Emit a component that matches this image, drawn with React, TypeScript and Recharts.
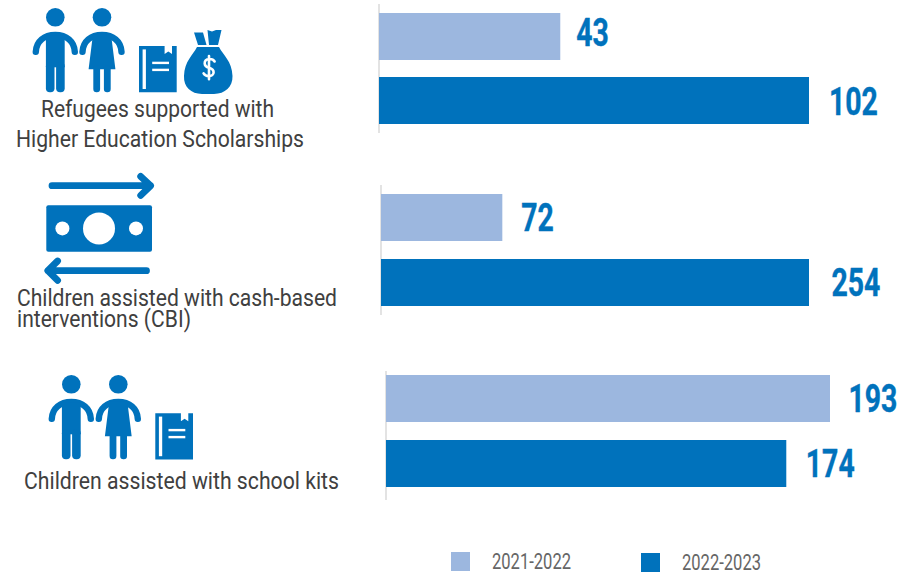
import React from "react";
import { BarChart, Bar, XAxis, YAxis, LabelList } from "recharts";

const BLUE = "#0072BC";
const LIGHT_BLUE = "#9CB7DF";
const TEXT_FONT = "Roboto, sans-serif";

const categories = ["Scholarships", "Cash-based interventions", "School kits"];
const seriesNames = ["2021-2022", "2022-2023"];
const values2021 = [43, 72, 193];
const values2022 = [102, 254, 174];

// chart placement, each panel has its own scale
const panels = [
  { left: 379, top: 4, height: 129, plotWidth: 430, max: 102, gap: 17, axisBottomPad: 0 },
  { left: 381, top: 185, height: 130, plotWidth: 428, max: 254, gap: 18, axisBottomPad: 0 },
  { left: 386, top: 371, height: 129, plotWidth: 444, max: 193, gap: 18, axisBottomPad: 9 },
];

// offsets of the value labels from the bar end: [dx, dy]
const labelNudge2021 = [[16, -4], [19, 0], [18.5, 0]];
const labelNudge2022 = [[20, 0.5], [22.5, 0], [19.5, 0]];

const captions = [
  { text: "Refugees supported with", x: 41, y: 117, w: 233 },
  { text: "Higher Education Scholarships", x: 16, y: 147, w: 288 },
  { text: "Children assisted with cash-based", x: 17, y: 306, w: 320 },
  { text: "interventions (CBI)", x: 17, y: 327, w: 174 },
  { text: "Children assisted with school kits", x: 24, y: 489, w: 315 },
];

const legendItems = [
  { swatchX: 451, swatchY: 552, textX: 492, textY: 569 },
  { swatchX: 641, swatchY: 553, textX: 682, textY: 570 },
];

function ValueLabel({ x, y, width, height, value, nudge }: any) {
  const digits = String(value).length;
  return (
    <text
      x={x + width + nudge[0]}
      y={y + height / 2 + 13.5 + nudge[1]}
      fill={BLUE}
      fontFamily={TEXT_FONT}
      fontWeight={700}
      fontSize={38}
      stroke={BLUE}
      strokeWidth={0.4}
      textLength={digits * 16.3}
      lengthAdjust="spacingAndGlyphs"
    >
      {value}
    </text>
  );
}

function Boy({ x, y }: { x: number; y: number }) {
  return (
    <g transform={`translate(${x} ${y})`} fill={BLUE}>
      <circle r={9.3} />
      <path d="M-19.5 34.5C-19 24-11 17.6 0 17.6S19 24 19.5 34.5" fill="none" stroke={BLUE} strokeWidth={6.4} strokeLinecap="round" />
      <path d="M-9.4 18H9.4V50H-9.4Z" />
      <rect x={-9.4} y={45} width={8.6} height={30} rx={4} />
      <rect x={0.8} y={45} width={8.6} height={30} rx={4} />
    </g>
  );
}

function Girl({ x, y }: { x: number; y: number }) {
  return (
    <g transform={`translate(${x} ${y})`} fill={BLUE}>
      <circle r={9.3} />
      <path d="M-19.5 34.5C-19 24-11 17.6 0 17.6S19 24 19.5 34.5" fill="none" stroke={BLUE} strokeWidth={6.4} strokeLinecap="round" />
      <path d="M-9 17H9L13.4 52H-13.4Z" />
      <rect x={-8.7} y={48} width={6.8} height={27} rx={3.2} />
      <rect x={1.9} y={48} width={6.8} height={27} rx={3.2} />
    </g>
  );
}

function Book({ x, y }: { x: number; y: number }) {
  return (
    <g transform={`translate(${x} ${y})`}>
      <path d="M0 0H25.6V8L29.3 5.5L33 8V0H37.7V46.2H0Z" fill={BLUE} />
      <rect x={3.6} y={3.4} width={3.3} height={39.6} fill="#fff" />
      <rect x={13.2} y={15.7} width={16.8} height={2.4} fill="#fff" />
      <rect x={13.2} y={22.7} width={16.8} height={2.4} fill="#fff" />
    </g>
  );
}

function MoneyBag({ x, y }: { x: number; y: number }) {
  return (
    <g transform={`translate(${x} ${y})`} fill={BLUE}>
      <path d="M10 2.5L19 2.5L22.5 15H14Z" />
      <path d="M23.5 0L28 1.5L32 0H37.5L34 15H25Z" />
      <path d="M13 17H35C39 25 48 31 48.5 46C48.8 57 41 63.8 30 64H18C7 63.8-0.5 57 0 46C0.5 31 9 25 13 17Z" />
      <path
        d="M30.6 31.5C29.5 29.6 27.6 28.8 25.2 29C22.4 29.2 20.6 31 20.7 33.4C20.8 36 22.8 37.2 25 37.8C27.6 38.5 29.6 39.6 29.6 42.2C29.6 44.6 27.6 46.2 24.8 46.2C22.4 46.2 20.6 45.2 19.6 43.4M25 26V49.2"
        fill="none"
        stroke="#fff"
        strokeWidth={2.6}
        strokeLinecap="round"
      />
    </g>
  );
}

function Cash() {
  const arrow = { fill: "none", stroke: BLUE, strokeWidth: 6.8, strokeLinecap: "round", strokeLinejoin: "round" } as const;
  return (
    <g>
      <path d="M52 185.7H150.5M140.7 176.4L150.6 185.7L140.7 195.4" {...arrow} />
      <rect x={46.3} y={205.3} width={105.7} height={46.4} rx={2} fill={BLUE} />
      <circle cx={99} cy={228.4} r={16} fill="#fff" />
      <circle cx={62.4} cy={228.4} r={7} fill="#fff" />
      <circle cx={136} cy={228.4} r={7} fill="#fff" />
      <path d="M146.5 270.7H48M57.6 261L47.8 270.7L57.6 280.4" {...arrow} />
    </g>
  );
}

export default function App() {
  return (
    <div style={{ position: "absolute", left: 0, top: 0, width: 915, height: 572, background: "#fff", overflow: "hidden" }}>
      <svg width={915} height={572} style={{ position: "absolute", left: 0, top: 0 }}>
        <Boy x={55.3} y={17.3} />
        <Girl x={102} y={17.3} />
        <Book x={139} y={46} />
        <MoneyBag x={184} y={30} />
        <Cash />
        <Boy x={71.3} y={384.3} />
        <Girl x={118.3} y={384.3} />
        <Book x={155.3} y={413.2} />

        {captions.map((c) => (
          <text
            key={c.text}
            x={c.x}
            y={c.y}
            fill="#404040"
            fontFamily={TEXT_FONT}
            fontSize={23}
            textLength={c.w}
            lengthAdjust="spacingAndGlyphs"
          >
            {c.text}
          </text>
        ))}

        {legendItems.map((l, i) => (
          <g key={seriesNames[i]}>
            <rect x={l.swatchX} y={l.swatchY} width={19} height={19} fill={i === 0 ? LIGHT_BLUE : BLUE} />
            <text
              x={l.textX}
              y={l.textY}
              fill="#666666"
              fontFamily={TEXT_FONT}
              fontSize={22}
              textLength={79}
              lengthAdjust="spacingAndGlyphs"
            >
              {seriesNames[i]}
            </text>
          </g>
        ))}
      </svg>

      {panels.map((p, i) => {
        const data = [{ name: categories[i], first: values2021[i], second: values2022[i] }];
        return (
          <div key={categories[i]} style={{ position: "absolute", left: p.left - 4, top: p.top }}>
            <BarChart
              width={p.plotWidth + 104}
              height={p.height}
              data={data}
              layout="vertical"
              barSize={47}
              barGap={p.gap}
              margin={{ top: 0, right: 100, bottom: 0, left: 3 }}
            >
              <XAxis type="number" domain={[0, p.max]} hide />
              <YAxis
                type="category"
                dataKey="name"
                width={1}
                tick={false}
                tickLine={false}
                axisLine={{ stroke: "#E3E3E3", strokeWidth: 2 }}
                padding={{ top: 0, bottom: p.axisBottomPad }}
                zIndex={100}
              />
              <Bar dataKey="first" name={seriesNames[0]} fill={LIGHT_BLUE} isAnimationActive={false}>
                <LabelList dataKey="first" content={(props: any) => <ValueLabel {...props} nudge={labelNudge2021[i]} />} />
              </Bar>
              <Bar dataKey="second" name={seriesNames[1]} fill={BLUE} isAnimationActive={false}>
                <LabelList dataKey="second" content={(props: any) => <ValueLabel {...props} nudge={labelNudge2022[i]} />} />
              </Bar>
            </BarChart>
          </div>
        );
      })}
    </div>
  );
}
